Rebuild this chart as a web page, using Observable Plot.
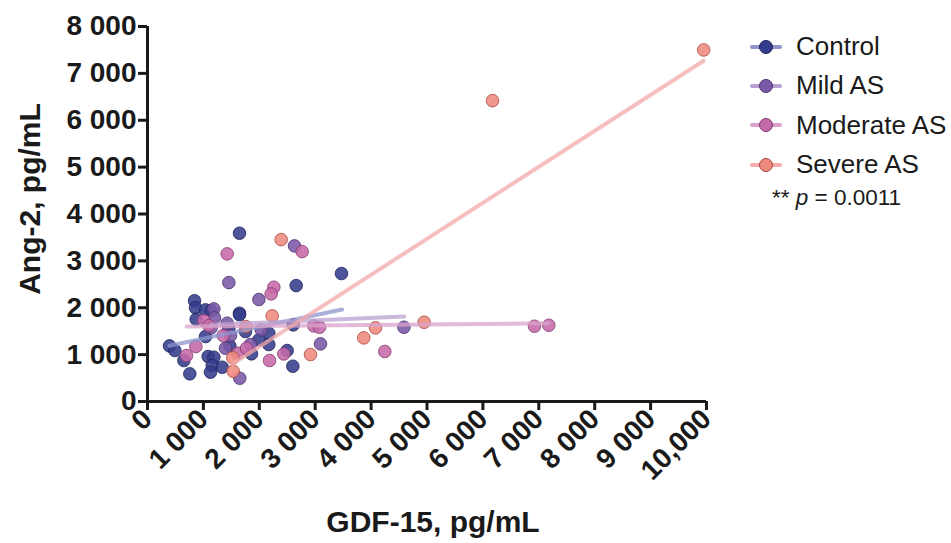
<!DOCTYPE html>
<html><head><meta charset="utf-8">
<script src="https://cdn.jsdelivr.net/npm/d3@7"></script>
<script src="https://cdn.jsdelivr.net/npm/@observablehq/plot@0.6"></script>
<style>
body{margin:0;background:#fff;font-family:"Liberation Sans",Arial,sans-serif;}
#wrap{position:relative;width:951px;height:543px;overflow:hidden;}
.ttl{position:absolute;font-weight:bold;font-size:30px;color:#1a1a1a;white-space:nowrap;}
#legend{position:absolute;left:750px;top:27px;font-size:26px;color:#1a1a1a;}
.row{position:relative;height:39.3px;display:flex;align-items:center;}
.sw{position:relative;width:32px;height:20px;margin-right:14px;}
.sw .ln{position:absolute;left:0;top:8px;width:32px;height:4px;border-radius:2px;}
.sw .dt{position:absolute;left:9px;top:3px;width:12px;height:12px;border-radius:50%;border:1px solid;}
#pval{font-size:22.5px;margin-left:22px;margin-top:1px;}
</style></head><body><div id="wrap"></div>
<script>
const groups = ["Control", "Mild AS", "Moderate AS", "Severe AS"];
const dotFill = ["#343c8c", "#7a59a6", "#c56aa9", "#ee8a7e"];
const dotStroke = ["#1f255e", "#4c3372", "#83396f", "#a9483f"];
const lineColor = ["#8d95cb", "#b9a2d2", "#d9a3cb", "#f3aaa9"];

const controlX = [1646, 2660, 3470, 841, 859, 1038, 1139, 871, 1646, 1646, 1455, 1753, 1038, 2606, 2170, 1992, 394, 489, 1473, 2170, 650, 1085, 1187, 1157, 1336, 757, 1127, 1860, 2499, 2600];
const controlY = [3590, 2473, 2730, 2150, 2000, 1955, 1940, 1755, 1883, 1850, 1550, 1493, 1386, 1635, 1456, 1315, 1187, 1087, 1187, 1215, 874, 960, 945, 768, 731, 590, 625, 1017, 1087, 753];
const mildX = [1455, 2630, 1992, 1187, 1199, 1139, 1425, 1485, 1395, 2034, 3095, 1651, 1842, 4587];
const mildY = [2537, 3320, 2175, 1976, 1785, 1571, 1670, 1407, 1137, 1529, 1230, 497, 1215, 1584];
const moderateX = [1425, 2767, 2260, 2212, 1008, 1097, 1354, 865, 698, 1616, 1771, 2975, 3077, 2183, 2439, 6923, 7179, 4245];
const moderateY = [3149, 3198, 2437, 2296, 1727, 1620, 1407, 1173, 981, 1030, 1137, 1614, 1584, 874, 1015, 1606, 1627, 1066];
const severeX = [2391, 2230, 1759, 1526, 1533, 2916, 4079, 3869, 4949, 6172, 9950];
const severeY = [3454, 1827, 1599, 932, 646, 1002, 1571, 1357, 1691, 6418, 7500];

// fitted regression lines: [x start, x end], [y start, y end]
const fitX = [[394, 3480], [1139, 4590], [698, 7179], [1526, 9950]];
const fitY = [[1190, 1962], [1637, 1812], [1600, 1668], [804, 7270]];

const yTicks = [0, 1000, 2000, 3000, 4000, 5000, 6000, 7000, 8000];
const yTickLabels = ["0", "1 000", "2 000", "3 000", "4 000", "5 000", "6 000", "7 000", "8 000"];
const xTicks = [0, 1000, 2000, 3000, 4000, 5000, 6000, 7000, 8000, 9000, 10000];
const xTickLabels = ["0", "1 000", "2 000", "3 000", "4 000", "5 000", "6 000", "7 000", "8 000", "9 000", "10,000"];

const seriesX = [controlX, mildX, moderateX, severeX];
const seriesY = [controlY, mildY, moderateY, severeY];
const points = [];
seriesX.forEach((xs, g) => xs.forEach((x, i) => points.push({g: groups[g], x, y: seriesY[g][i]})));
const fits = [];
fitX.forEach((xs, g) => xs.forEach((x, i) => fits.push({g: groups[g], x, y: fitY[g][i]})));

const chart = Plot.plot({
  width: 951, height: 543,
  marginLeft: 147, marginRight: 245, marginTop: 26, marginBottom: 142,
  style: {fontFamily: "'Liberation Sans', Arial, sans-serif", fontSize: "28px", fontWeight: "bold", color: "#1a1a1a", background: "white"},
  x: {domain: [0, 10000]},
  y: {domain: [0, 8000]},
  color: {domain: groups, range: dotFill},
  marks: [
    Plot.dot(points, {x: "x", y: "y", r: 6.3, fill: d => dotFill[groups.indexOf(d.g)], stroke: d => dotStroke[groups.indexOf(d.g)], strokeWidth: 1, fillOpacity: 0.88, strokeOpacity: 0.8}),
    ...groups.map((g, i) => Plot.line(fits.filter(d => d.g === g), {x: "x", y: "y", stroke: lineColor[i], strokeWidth: 4, strokeOpacity: 0.75, strokeLinecap: "round"})),
    Plot.ruleX([0], {y1: 0, y2: 8000, strokeWidth: 3, stroke: "#1a1a1a"}),
    Plot.ruleY([0], {x1: 0, x2: 10000, strokeWidth: 3, stroke: "#1a1a1a"}),
    Plot.axisY({ticks: yTicks, tickFormat: d => yTickLabels[yTicks.indexOf(d)], tickSize: 9, tickPadding: 2, strokeWidth: 3, label: null}),
    Plot.axisX({ticks: xTicks, tickFormat: d => xTickLabels[xTicks.indexOf(d)], tickSize: 9, tickPadding: 4, tickRotate: -45, strokeWidth: 3, label: null})
  ]
});
const wrap = document.getElementById("wrap");
wrap.appendChild(chart);

const xt = document.createElement("div");
xt.className = "ttl"; xt.textContent = "GDF-15, pg/mL";
xt.style.left = "433px"; xt.style.top = "522px"; xt.style.transform = "translate(-50%,-50%)";
wrap.appendChild(xt);
const yt = document.createElement("div");
yt.className = "ttl"; yt.textContent = "Ang-2, pg/mL";
yt.style.left = "30px"; yt.style.top = "199px"; yt.style.transform = "translate(-50%,-50%) rotate(-90deg)";
wrap.appendChild(yt);

const lg = document.createElement("div");
lg.id = "legend";
groups.forEach((g, i) => {
  const r = document.createElement("div"); r.className = "row";
  r.innerHTML = `<div class="sw"><div class="ln" style="background:${lineColor[i]}"></div><div class="dt" style="background:${dotFill[i]};border-color:${dotStroke[i]}"></div></div><span>${g}</span>`;
  lg.appendChild(r);
});
const pv = document.createElement("div"); pv.id = "pval";
pv.innerHTML = "** <i>p</i> = 0.0011";
lg.appendChild(pv);
wrap.appendChild(lg);
</script></body></html>
